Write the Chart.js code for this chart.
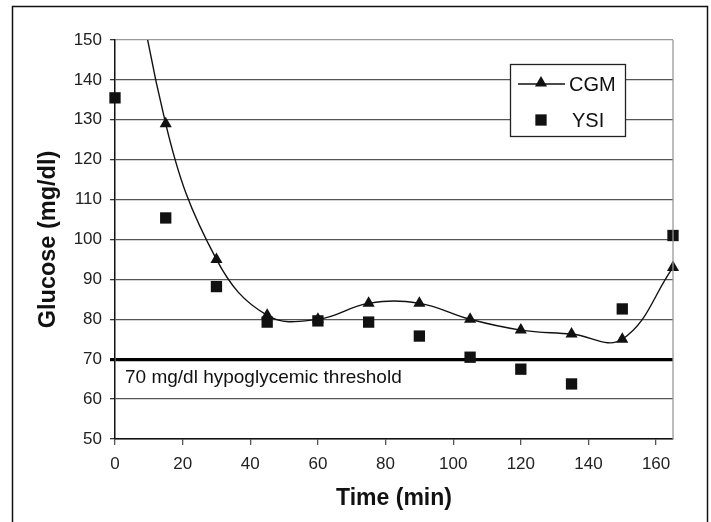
<!DOCTYPE html>
<html lang="en">
<head>
<meta charset="UTF-8">
<title>Glucose: CGM vs YSI</title>
<script src="https://cdn.jsdelivr.net/npm/chart.js"></script>
<style>
  body { margin: 0; background: #fff; }
  #wrap { width: 711px; height: 522px; }
</style>
</head>
<body>
<div id="wrap"><canvas id="glucoseChart" width="711" height="522"></canvas></div>
<script>
// values
const times = [0, 15, 30, 45, 60, 75, 90, 105, 120, 135, 150, 165];
const cgmValues = [200, 129, 95, 81, 80, 84, 84, 80, 77.3, 76.3, 75, 93];
const ysiValues = [135.5, 105.4, 88.2, 79.3, 79.6, 79.3, 75.8, 70.5, 67.5, 63.8, 82.6, 101];
const xTicks = [0, 20, 40, 60, 80, 100, 120, 140, 160];
const yTicks = [50, 60, 70, 80, 90, 100, 110, 120, 130, 140, 150];
const threshold = 70;
const thresholdLabel = '70 mg/dl hypoglycemic threshold';

const sans = '"Liberation Sans", Arial, Helvetica, sans-serif';
const narrow = '"Liberation Sans Narrow", "Arial Narrow", "Liberation Sans", Arial, sans-serif';

function drawMarker(ctx, style, x, y, r) {
    ctx.beginPath();
    if (style === 'triangle') {
        ctx.moveTo(x, y - r);
        ctx.lineTo(x + r * 0.866, y + r * 0.5);
        ctx.lineTo(x - r * 0.866, y + r * 0.5);
        ctx.closePath();
    } else {
        const s = r * Math.SQRT1_2;
        ctx.rect(x - s, y - s, 2 * s, 2 * s);
    }
    ctx.fill();
}

const decorations = {
    id: 'decorations',
    beforeDraw(chart) {
        const ctx = chart.ctx;
        ctx.save();
        ctx.fillStyle = '#fff';
        ctx.fillRect(0, 0, chart.width, chart.height);
        ctx.strokeStyle = '#111';
        ctx.lineWidth = 1.5;
        ctx.strokeRect(12.5, 6.5, 695, 540);
        ctx.restore();
    },
    afterDraw(chart) {
        const ctx = chart.ctx;
        const area = chart.chartArea;
        const yScale = chart.scales.y;
        ctx.save();
        // light frame on the right side of the plot
        ctx.strokeStyle = '#999';
        ctx.lineWidth = 1.3;
        ctx.beginPath();
        ctx.moveTo(area.right, area.top);
        ctx.lineTo(area.right, area.bottom);
        ctx.stroke();

        // threshold label
        ctx.fillStyle = '#111';
        ctx.font = '19px ' + sans;
        ctx.textBaseline = 'middle';
        ctx.textAlign = 'left';
        ctx.fillText(thresholdLabel, area.left + 10, yScale.getPixelForValue(threshold) + 19);

        // legend box
        const bx = 510, by = 64, bw = 115, bh = 72;
        ctx.fillStyle = '#fff';
        ctx.fillRect(bx, by, bw, bh);
        ctx.strokeStyle = '#222';
        ctx.lineWidth = 1.3;
        ctx.strokeRect(bx + 0.5, by + 0.5, bw, bh);

        const ds = chart.data.datasets;
        const rowY = [by + 20, by + 56];
        ctx.fillStyle = '#111';
        ctx.strokeStyle = '#111';
        ctx.beginPath();
        ctx.moveTo(bx + 8, rowY[0]);
        ctx.lineTo(bx + 55, rowY[0]);
        ctx.stroke();
        drawMarker(ctx, 'triangle', bx + 31, rowY[0] - 1, 7);
        drawMarker(ctx, 'rect', bx + 31, rowY[1], 8);
        ctx.font = '20px ' + sans;
        ctx.textBaseline = 'middle';
        ctx.fillText(ds[0].label, bx + 59, rowY[0] + 1);
        ctx.fillText(ds[1].label, bx + 62, rowY[1] + 1);
        ctx.restore();
    }
};

const cgmPoints = times.map((t, i) => ({ x: t, y: cgmValues[i] }));
const ysiPoints = times.map((t, i) => ({ x: t, y: ysiValues[i] }));

new Chart(document.getElementById('glucoseChart'), {
    type: 'scatter',
    data: {
        datasets: [{
            label: 'CGM',
            data: cgmPoints,
            showLine: true,
            tension: 0.4,
            borderColor: '#111',
            borderWidth: 1.4,
            backgroundColor: '#111',
            pointStyle: 'triangle',
            pointRadius: 7,
            pointBorderWidth: 0,
            clip: { left: 12, right: 12, top: 0, bottom: 12 }
        }, {
            label: 'YSI',
            data: ysiPoints,
            showLine: false,
            backgroundColor: '#111',
            borderColor: '#111',
            pointStyle: 'rect',
            pointRadius: 8,
            pointBorderWidth: 0,
            clip: false
        }]
    },
    options: {
        responsive: false,
        animation: false,
        layout: { padding: { top: 40, right: 38, left: 0, bottom: 0 } },
        plugins: {
            legend: { display: false },
            tooltip: { enabled: false }
        },
        scales: {
            x: {
                type: 'linear',
                min: 0,
                max: 165,
                afterBuildTicks: s => { s.ticks = xTicks.map(v => ({ value: v })); },
                afterFit: s => { s.height = 83; },
                ticks: { color: '#222', font: { family: narrow, size: 17 }, padding: 9 },
                grid: { drawOnChartArea: false, drawTicks: true, tickLength: 6, color: '#555', lineWidth: 1.3 },
                border: { color: '#111', width: 1.5 },
                title: {
                    display: true,
                    text: 'Time (min)',
                    color: '#111',
                    font: { family: sans, size: 23, weight: 'bold' },
                    padding: { top: 0, bottom: 10 }
                }
            },
            y: {
                type: 'linear',
                min: 50,
                max: 150,
                afterBuildTicks: s => { s.ticks = yTicks.map(v => ({ value: v })); },
                afterFit: s => { s.width = 115; },
                ticks: { color: '#222', font: { family: narrow, size: 17 }, padding: 8 },
                grid: {
                    drawTicks: true,
                    tickLength: 5,
                    color: c => c.tick && c.tick.value === threshold ? '#000' : (c.tick && c.tick.value === 150 ? '#999' : '#555'),
                    lineWidth: c => c.tick && c.tick.value === threshold ? 3.2 : 1.3,
                    tickColor: c => c.tick && c.tick.value === threshold ? '#000' : '#333'
                },
                border: { color: '#111', width: 1.5 },
                title: {
                    display: true,
                    text: 'Glucose (mg/dl)',
                    color: '#111',
                    font: { family: sans, size: 23.5, weight: 'bold' },
                    padding: { top: 34, bottom: 0 }
                }
            }
        }
    },
    plugins: [decorations]
});
</script>
</body>
</html>
